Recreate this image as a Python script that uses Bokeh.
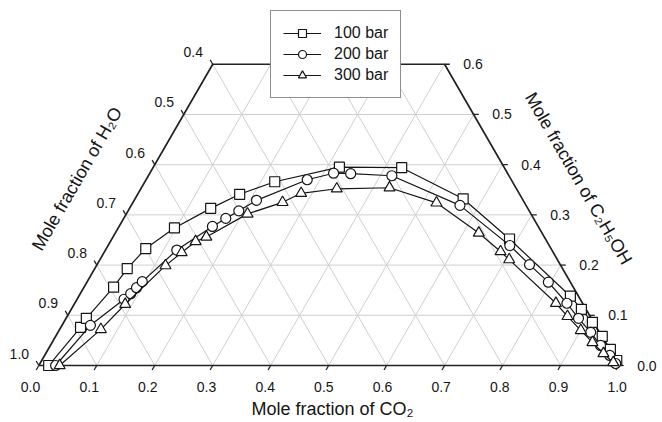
import numpy as np
from bokeh.plotting import figure
from bokeh.models import Legend, LegendItem
from bokeh.embed import file_html
from bokeh.resources import INLINE
from bokeh.core.properties import value

# ---------------- data ----------------
co2_ticks = [0.0, 0.1, 0.2, 0.3, 0.4, 0.5, 0.6, 0.7, 0.8, 0.9, 1.0]
co2_tick_labels = ["0.0", "0.1", "0.2", "0.3", "0.4", "0.5", "0.6", "0.7", "0.8", "0.9", "1.0"]
eth_ticks = [0.0, 0.1, 0.2, 0.3, 0.4, 0.5, 0.6]
eth_tick_labels = ["0.0", "0.1", "0.2", "0.3", "0.4", "0.5", "0.6"]
h2o_tick_labels = ["1.0", "0.9", "0.8", "0.7", "0.6", "0.5", "0.4"]

series_names = ["100 bar", "200 bar", "300 bar"]

co2_100 = [0.017, 0.034, 0.035, 0.051, 0.056, 0.068, 0.097, 0.140, 0.176, 0.224,
           0.321, 0.429, 0.566, 0.686, 0.848, 0.880, 0.912, 0.943, 0.970, 0.992]
eth_100 = [0.000, 0.076, 0.094, 0.156, 0.193, 0.233, 0.274, 0.313, 0.341, 0.366,
           0.395, 0.394, 0.332, 0.252, 0.138, 0.112, 0.086, 0.058, 0.032, 0.010]

co2_200 = [0.029, 0.049, 0.081, 0.087, 0.091, 0.095, 0.123, 0.161, 0.176, 0.191,
           0.211, 0.278, 0.317, 0.347, 0.420, 0.567, 0.693, 0.746, 0.796, 0.849,
           0.884, 0.919, 0.949, 0.975, 0.993]
eth_200 = [0.000, 0.080, 0.132, 0.143, 0.155, 0.167, 0.230, 0.277, 0.293, 0.308,
           0.329, 0.370, 0.383, 0.382, 0.378, 0.319, 0.239, 0.201, 0.166, 0.124,
           0.094, 0.066, 0.040, 0.020, 0.004]

co2_300 = [0.036, 0.071, 0.088, 0.119, 0.134, 0.147, 0.161, 0.209, 0.258, 0.281,
           0.338, 0.428, 0.524, 0.627, 0.683, 0.706, 0.830, 0.863, 0.900, 0.932,
           0.962, 0.988]
eth_300 = [0.000, 0.072, 0.122, 0.199, 0.225, 0.247, 0.256, 0.302, 0.325, 0.343,
           0.352, 0.354, 0.324, 0.264, 0.227, 0.211, 0.124, 0.098, 0.070, 0.046,
           0.024, 0.006]

# ---------------- ternary projection ----------------
H = np.sqrt(3) / 2
E_MAX = 0.6


def tern(c, e):
    c = np.asarray(c, dtype=float)
    e = np.asarray(e, dtype=float)
    return c + e / 2, e * H


FONT = "Liberation Sans"
INK = "#151515"

p = figure(width=662, height=422, x_range=(-0.0661, 1.0759), y_range=(-0.0983, 0.6296),
           output_backend="svg", toolbar_location=None, x_axis_type=None, y_axis_type=None,
           min_border=0, outline_line_color=None)
p.background_fill_color = "white"
p.border_fill_color = "white"

# ---------------- grid ----------------
gxs, gys = [], []
for v in co2_ticks[1:-1]:
    if v < E_MAX - 1e-9:
        x0, y0 = tern(0.0, v)
        x1, y1 = tern(1 - v, v)
        gxs.append([float(x0), float(x1)]); gys.append([float(y0), float(y1)])
    et = min(E_MAX, 1 - v)
    x0, y0 = tern(v, 0.0)
    x1, y1 = tern(v, et)
    gxs.append([float(x0), float(x1)]); gys.append([float(y0), float(y1)])
    x0, y0 = tern(1 - v, 0.0)
    x1, y1 = tern(1 - v - et, et)
    gxs.append([float(x0), float(x1)]); gys.append([float(y0), float(y1)])
p.multi_line(gxs, gys, line_color="#cfcfcf", line_width=1)

# ---------------- outline ----------------
ox, oy = tern([0.0, 1.0, 1 - E_MAX, 0.0, 0.0], [0.0, 0.0, E_MAX, E_MAX, 0.0])
p.line(ox, oy, line_color="#222222", line_width=1.7)

# ---------------- ticks ----------------
t = 0.009
txs, tys = [], []
for v in co2_ticks:
    x, y = tern(v, 0.0)
    txs.append([float(x), float(x - 0.5 * t)]); tys.append([float(y), float(y - H * t)])
for e in eth_ticks:
    x, y = tern(0.0, e)
    txs.append([float(x), float(x - 0.5 * t)]); tys.append([float(y), float(y + H * t)])
    x, y = tern(1 - e, e)
    txs.append([float(x), float(x + t)]); tys.append([float(y), float(y)])
p.multi_line(txs, tys, line_color="#222222", line_width=1.3)

# ---------------- tick labels ----------------
bx, by = tern(co2_ticks, [0.0] * len(co2_ticks))
p.text(bx + np.asarray(co2_ticks) * 0.012 - 0.0143, by - 0.037, text=co2_tick_labels,
       text_font=value(FONT), text_font_size="14px", text_color=INK,
       text_align="center", text_baseline="middle")
lx, ly = tern([0.0] * len(eth_ticks), eth_ticks)
p.text(lx - 0.0336, ly + 0.0207, text=h2o_tick_labels,
       text_font=value(FONT), text_font_size="14px", text_color=INK,
       text_align="center", text_baseline="middle")
rx, ry = tern(1 - np.asarray(eth_ticks), eth_ticks)
p.text(rx + 0.0490, ry, text=eth_tick_labels,
       text_font=value(FONT), text_font_size="14px", text_color=INK,
       text_align="center", text_baseline="middle")

# ---------------- axis titles ----------------
p.text([0.5066], [-0.0745], text=["Mole fraction of CO\u2082"],
       text_font=value(FONT), text_font_size="18px", text_color=INK,
       text_align="center", text_baseline="middle")
p.text([0.066], [0.322], text=["Mole fraction of H\u2082O"], angle=np.pi / 3,
       text_font=value(FONT), text_font_size="18px", text_color=INK,
       text_align="center", text_baseline="middle")
p.text([0.931], [0.3226], text=["Mole fraction of C\u2082H\u2085OH"], angle=-np.pi / 3,
       text_font=value(FONT), text_font_size="18px", text_color=INK,
       text_align="center", text_baseline="middle")

# ---------------- series ----------------
series = [(co2_100, eth_100, "square", 10),
          (co2_200, eth_200, "circle", 10),
          (co2_300, eth_300, "triangle", 11)]
items = []
for name, (c, e, mk, sz) in zip(series_names, series):
    x, y = tern(c, e)
    rl = p.line(x, y, line_color=INK, line_width=1.2)
    rm = p.scatter(x, y, marker=mk, size=sz, fill_color="white",
                   line_color=INK, line_width=1.2)
    items.append(LegendItem(label=name, renderers=[rl, rm]))

legend = Legend(items=items, location=(270, 324), orientation="vertical",
                border_line_color="#1e1e1e", border_line_width=1.3,
                background_fill_color="white", background_fill_alpha=1.0,
                label_text_font=FONT, label_text_font_size="16px", label_text_color=INK,
                glyph_width=38, glyph_height=20, label_height=20, spacing=1,
                padding=12, label_standoff=13, margin=0)
p.add_layout(legend)

open("out.html", "w").write(file_html(p, INLINE))
